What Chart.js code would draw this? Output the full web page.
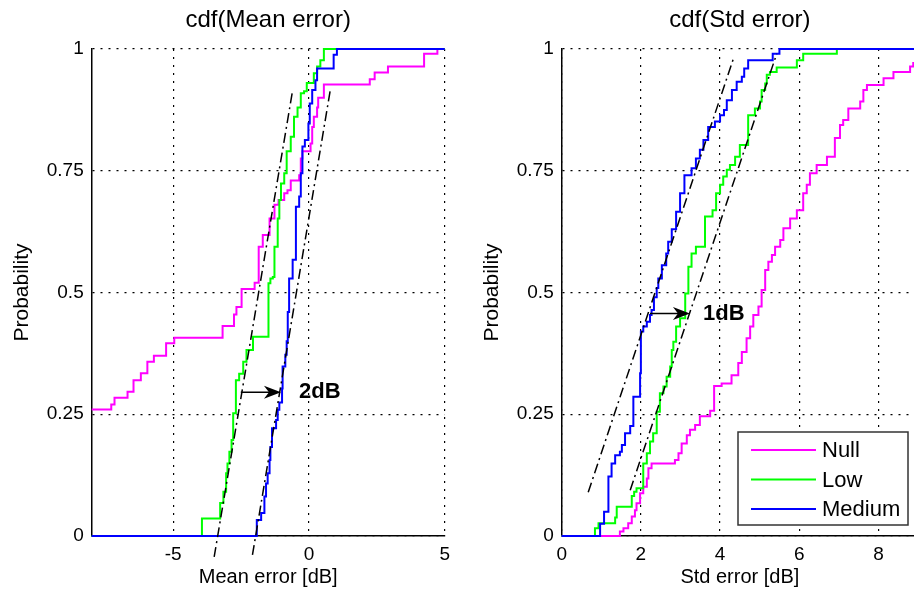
<!DOCTYPE html>
<html>
<head>
<meta charset="utf-8">
<script src="https://cdn.jsdelivr.net/npm/chart.js@4.4.0/dist/chart.umd.min.js"></script>
<style>
html, body { margin: 0; padding: 0; background: #fff; overflow: hidden; }
#wrap { position: relative; width: 914px; height: 594px; overflow: hidden; }
canvas { position: absolute; top: 0; }
</style>
</head>
<body>
<div id="wrap">
  <canvas id="chartMean" width="457" height="594" style="left:0px"></canvas>
  <canvas id="chartStd" width="457" height="594" style="left:470px"></canvas>
</div>
<script>
// legend / series names
const seriesNames = ['Null', 'Low', 'Medium'];
const seriesColors = ['#ff00ff', '#00ff00', '#0000ff'];

// ---- cdf(Mean error) ----
const meanNullX = [-8, -7.28, -7.16, -6.68, -6.46, -6.19, -5.95, -5.71, -5.26, -4.96, -3.18, -2.76, -2.67, -2.48, -2.0, -1.85, -1.70, -1.45, -1.27, -1.12, -0.91, -0.79, -0.67, -0.36, -0.30, -0.24, 0.06, 0.12, 0.18, 0.30, 0.34, 0.55, 2.24, 2.42, 2.91, 4.24, 4.73, 5];
const meanNullY = [0.26, 0.27, 0.284, 0.296, 0.32, 0.334, 0.358, 0.37, 0.396, 0.407, 0.431, 0.455, 0.47, 0.507, 0.52, 0.594, 0.618, 0.652, 0.68, 0.69, 0.704, 0.71, 0.73, 0.741, 0.775, 0.79, 0.806, 0.84, 0.861, 0.88, 0.90, 0.927, 0.938, 0.952, 0.964, 0.99, 1.0, 1.0];

const meanLowX = [-8, -3.94, -3.27, -3.15, -3.05, -3.0, -2.93, -2.85, -2.79, -2.69, -2.57, -2.42, -2.3, -2.06, -1.49, -1.42, -1.33, -1.27, -1.15, -1.09, -1.03, -0.91, -0.82, -0.67, -0.55, -0.42, -0.30, -0.18, -0.08, 0.18, 0.30, 0.42, 0.55, 5];
const meanLowY = [0, 0.036, 0.068, 0.091, 0.129, 0.149, 0.173, 0.197, 0.252, 0.32, 0.333, 0.358, 0.382, 0.409, 0.519, 0.529, 0.532, 0.594, 0.652, 0.69, 0.724, 0.745, 0.79, 0.82, 0.861, 0.88, 0.909, 0.913, 0.93, 0.95, 0.964, 0.977, 1.0, 1.0];

const meanMedX = [-8, -1.92, -1.76, -1.64, -1.58, -1.52, -1.45, -1.42, -1.36, -1.21, -1.15, -1.09, -0.99, -0.97, -0.87, -0.82, -0.78, -0.73, -0.60, -0.48, -0.36, -0.30, -0.24, -0.15, -0.02, 0.03, 0.12, 0.24, 0.30, 0.91, 1.03, 5];
const meanMedY = [0, 0.033, 0.047, 0.081, 0.108, 0.129, 0.156, 0.183, 0.221, 0.238, 0.259, 0.274, 0.303, 0.348, 0.372, 0.40, 0.46, 0.529, 0.567, 0.676, 0.697, 0.745, 0.80, 0.813, 0.847, 0.888, 0.916, 0.936, 0.96, 0.988, 1.0, 1.0];

// dash-dot fitted lines (x pairs, y pairs)
const meanFitLowX = [-3.49, -0.61];
const meanFitLowY = [-0.043, 0.912];
const meanFitMedX = [-2.08, 0.79];
const meanFitMedY = [-0.039, 0.917];

// arrow: x start, x end, y ; label
const meanArrow = [-2.51, -1.03, 0.295];
const meanArrowLabel = '2dB';

// ---- cdf(Std error) ----
const stdNullX = [0, 1.47, 1.56, 1.68, 1.77, 1.85, 1.89, 1.98, 2.06, 2.15, 2.19, 2.27, 2.86, 2.95, 3.03, 3.16, 3.24, 3.37, 3.49, 3.75, 3.85, 4.04, 4.29, 4.46, 4.55, 4.67, 4.76, 4.84, 4.97, 5.05, 5.14, 5.22, 5.31, 5.39, 5.52, 5.60, 5.77, 5.94, 6.10, 6.19, 6.27, 6.44, 6.70, 6.90, 7.03, 7.11, 7.24, 7.54, 7.62, 7.71, 8.13, 8.38, 8.80, 8.88, 9.2];
const stdNullY = [0, 0.009, 0.016, 0.026, 0.04, 0.053, 0.067, 0.088, 0.101, 0.118, 0.139, 0.149, 0.156, 0.17, 0.19, 0.207, 0.218, 0.228, 0.246, 0.257, 0.308, 0.313, 0.33, 0.355, 0.378, 0.406, 0.43, 0.454, 0.471, 0.505, 0.546, 0.563, 0.577, 0.594, 0.608, 0.632, 0.652, 0.669, 0.704, 0.721, 0.745, 0.762, 0.779, 0.817, 0.844, 0.854, 0.878, 0.892, 0.916, 0.926, 0.94, 0.953, 0.964, 0.971, 0.975];

const stdLowX = [0, 0.84, 0.93, 1.35, 1.39, 1.77, 1.83, 1.89, 2.06, 2.15, 2.23, 2.31, 2.40, 2.48, 2.57, 2.65, 2.74, 2.78, 2.82, 2.89, 2.99, 3.12, 3.20, 3.28, 3.39, 3.62, 3.81, 3.90, 4.0, 4.08, 4.17, 4.25, 4.38, 4.50, 4.71, 4.88, 5.01, 5.05, 5.14, 5.18, 5.26, 5.43, 5.94, 6.10, 6.95, 9.2];
const stdLowY = [0, 0.016, 0.026, 0.038, 0.06, 0.082, 0.091, 0.098, 0.149, 0.17, 0.194, 0.211, 0.255, 0.293, 0.307, 0.327, 0.348, 0.382, 0.399, 0.43, 0.447, 0.498, 0.553, 0.58, 0.594, 0.656, 0.669, 0.704, 0.721, 0.738, 0.752, 0.762, 0.779, 0.803, 0.864, 0.878, 0.892, 0.916, 0.929, 0.947, 0.953, 0.962, 0.977, 0.99, 1.0, 1.0];

const stdMedX = [0, 0.97, 1.07, 1.18, 1.26, 1.35, 1.47, 1.52, 1.60, 1.73, 1.81, 1.98, 2.0, 2.06, 2.15, 2.23, 2.27, 2.33, 2.40, 2.44, 2.53, 2.64, 2.69, 2.78, 2.89, 2.99, 3.10, 3.28, 3.39, 3.49, 3.58, 3.70, 3.87, 4.0, 4.10, 4.17, 4.30, 4.42, 4.55, 4.61, 4.71, 5.33, 5.50, 9.2];
const stdMedY = [0, 0.025, 0.05, 0.122, 0.149, 0.166, 0.173, 0.187, 0.211, 0.226, 0.286, 0.334, 0.42, 0.43, 0.44, 0.454, 0.464, 0.49, 0.509, 0.529, 0.556, 0.58, 0.604, 0.63, 0.666, 0.704, 0.741, 0.755, 0.775, 0.793, 0.813, 0.84, 0.851, 0.864, 0.875, 0.895, 0.916, 0.933, 0.943, 0.96, 0.977, 0.99, 1.0, 1.0];

const stdFitMedX = [0.67, 4.34];
const stdFitMedY = [0.09, 0.981];
const stdFitLowX = [1.73, 5.43];
const stdFitLowY = [0.094, 0.99];

const stdArrow = [2.23, 3.24, 0.457];
const stdArrowLabel = '1dB';

// y axis (both plots)
const yTickValues = [0, 0.25, 0.5, 0.75, 1];
const yTickLabels = ['0', '0.25', '0.5', '0.75', '1'];

Chart.defaults.font.family = '"Liberation Sans", Arial, Helvetica, sans-serif';
Chart.defaults.color = '#000';

function pontos(xs, ys) {
    let lista = [];
    for (let i = 0; i < xs.length; i++) {
        lista.push({ x: xs[i], y: ys[i] });
    }
    return lista;
}

function serie(nome, cor, xs, ys, ordem) {
    return {
        label: nome,
        data: pontos(xs, ys),
        borderColor: cor,
        borderWidth: 2,
        pointRadius: 0,
        stepped: 'before',
        tension: 0,
        fill: false,
        clip: 3,
        order: ordem
    };
}

function reta(xs, ys) {
    return {
        label: 'fit',
        data: pontos(xs, ys),
        borderColor: '#000',
        borderWidth: 1.5,
        borderDash: [10, 4, 2, 4],
        pointRadius: 0,
        fill: false,
        clip: false,
        order: -1
    };
}

// titles, arrow and legend drawn on top, positioned with the scales
const extras = {
    id: 'extras',
    afterDatasetsDraw(chart, args, opts) {
        const ctx = chart.ctx;
        const area = chart.chartArea;
        const sx = chart.scales.x;
        const sy = chart.scales.y;
        ctx.save();

        // title above the axes
        ctx.fillStyle = '#000';
        ctx.font = '24px "Liberation Sans", Arial, sans-serif';
        ctx.textAlign = 'center';
        ctx.textBaseline = 'middle';
        ctx.fillText(opts.titulo, (area.left + area.right) / 2, area.top - 29);

        // arrow
        const x1 = sx.getPixelForValue(opts.seta[0]);
        const x2 = sx.getPixelForValue(opts.seta[1]);
        const y = sy.getPixelForValue(opts.seta[2]);
        ctx.strokeStyle = '#000';
        ctx.lineWidth = 1.5;
        ctx.beginPath();
        ctx.moveTo(x1, y);
        ctx.lineTo(x2 - 8, y);
        ctx.stroke();
        ctx.beginPath();
        ctx.moveTo(x2, y);
        ctx.lineTo(x2 - 17, y - 6.5);
        ctx.lineTo(x2 - 12, y);
        ctx.lineTo(x2 - 17, y + 6.5);
        ctx.closePath();
        ctx.fillStyle = '#000';
        ctx.fill();

        ctx.font = 'bold 22px "Liberation Sans", Arial, sans-serif';
        ctx.textAlign = 'left';
        ctx.fillText(opts.textoSeta, x2 + opts.deslocTexto, y);

        // legend box (south east)
        if (opts.legenda) {
            const w = 170, h = 93;
            const bx = area.right - 10 - w;
            const by = area.bottom - 11 - h;
            ctx.fillStyle = '#fff';
            ctx.fillRect(bx, by, w, h);
            ctx.strokeStyle = '#333';
            ctx.lineWidth = 1.5;
            ctx.strokeRect(bx, by, w, h);
            ctx.font = '22px "Liberation Sans", Arial, sans-serif';
            ctx.textBaseline = 'middle';
            for (let i = 0; i < seriesNames.length; i++) {
                const ly = by + 18 + i * 29.5;
                ctx.strokeStyle = seriesColors[i];
                ctx.lineWidth = 2;
                ctx.beginPath();
                ctx.moveTo(bx + 13, ly);
                ctx.lineTo(bx + 78, ly);
                ctx.stroke();
                ctx.fillStyle = '#000';
                ctx.fillText(seriesNames[i], bx + 84, ly + 1);
            }
        }
        ctx.restore();
    }
};

function gerarGrafico(idCanvas, cfg) {
    const config = {
        type: 'line',
        data: {
            datasets: [
                serie(seriesNames[0], seriesColors[0], cfg.nullX, cfg.nullY, 2),
                serie(seriesNames[1], seriesColors[1], cfg.lowX, cfg.lowY, 1),
                serie(seriesNames[2], seriesColors[2], cfg.medX, cfg.medY, 0),
                reta(cfg.fitLowX, cfg.fitLowY),
                reta(cfg.fitMedX, cfg.fitMedY)
            ]
        },
        options: {
            responsive: false,
            animation: false,
            layout: { padding: { top: 49, right: 9, left: 0, bottom: 0 } },
            plugins: {
                legend: { display: false },
                tooltip: { enabled: false },
                extras: {
                    titulo: cfg.titulo,
                    seta: cfg.seta,
                    textoSeta: cfg.textoSeta,
                    deslocTexto: cfg.deslocTexto,
                    legenda: cfg.legenda
                }
            },
            scales: {
                x: {
                    type: 'linear',
                    min: cfg.xMin,
                    max: cfg.xMax,
                    ticks: { stepSize: cfg.xStep, includeBounds: false, padding: 7, font: { size: 19 }, color: '#000' },
                    grid: { color: '#000', lineWidth: 1.2, drawTicks: false },
                    border: { display: true, color: '#000', width: 1.5, dash: [2, 6] },
                    title: { display: true, text: cfg.rotuloX, font: { size: 20 }, color: '#000', padding: { top: 0, bottom: 5 } },
                    afterFit(scale) { scale.height = 58; }
                },
                y: {
                    type: 'linear',
                    min: yTickValues[0],
                    max: yTickValues[yTickValues.length - 1],
                    afterBuildTicks(scale) {
                        scale.ticks = yTickValues.map(v => ({ value: v }));
                    },
                    ticks: {
                        padding: 8,
                        font: { size: 19 },
                        color: '#000',
                        callback: (v) => yTickLabels[yTickValues.indexOf(v)]
                    },
                    grid: { color: '#000', lineWidth: 1.2, drawTicks: false },
                    border: { display: true, color: '#000', width: 1.5, dash: [2, 6] },
                    title: { display: true, text: 'Probability', font: { size: 21 }, color: '#000', padding: { top: 10, bottom: 0 } },
                    afterFit(scale) { scale.width = 91.7; }
                }
            }
        },
        plugins: [extras]
    };
    return new Chart(document.getElementById(idCanvas), config);
}

gerarGrafico('chartMean', {
    nullX: meanNullX, nullY: meanNullY,
    lowX: meanLowX, lowY: meanLowY,
    medX: meanMedX, medY: meanMedY,
    fitLowX: meanFitLowX, fitLowY: meanFitLowY,
    fitMedX: meanFitMedX, fitMedY: meanFitMedY,
    xMin: -8, xMax: 5, xStep: 5,
    titulo: 'cdf(Mean error)', rotuloX: 'Mean error [dB]',
    seta: meanArrow, textoSeta: meanArrowLabel, deslocTexto: 18,
    legenda: false
});

gerarGrafico('chartStd', {
    nullX: stdNullX, nullY: stdNullY,
    lowX: stdLowX, lowY: stdLowY,
    medX: stdMedX, medY: stdMedY,
    fitLowX: stdFitLowX, fitLowY: stdFitLowY,
    fitMedX: stdFitMedX, fitMedY: stdFitMedY,
    xMin: 0, xMax: 9, xStep: 2,
    titulo: 'cdf(Std error)', rotuloX: 'Std error [dB]',
    seta: stdArrow, textoSeta: stdArrowLabel, deslocTexto: 13,
    legenda: true
});
</script>
</body>
</html>
